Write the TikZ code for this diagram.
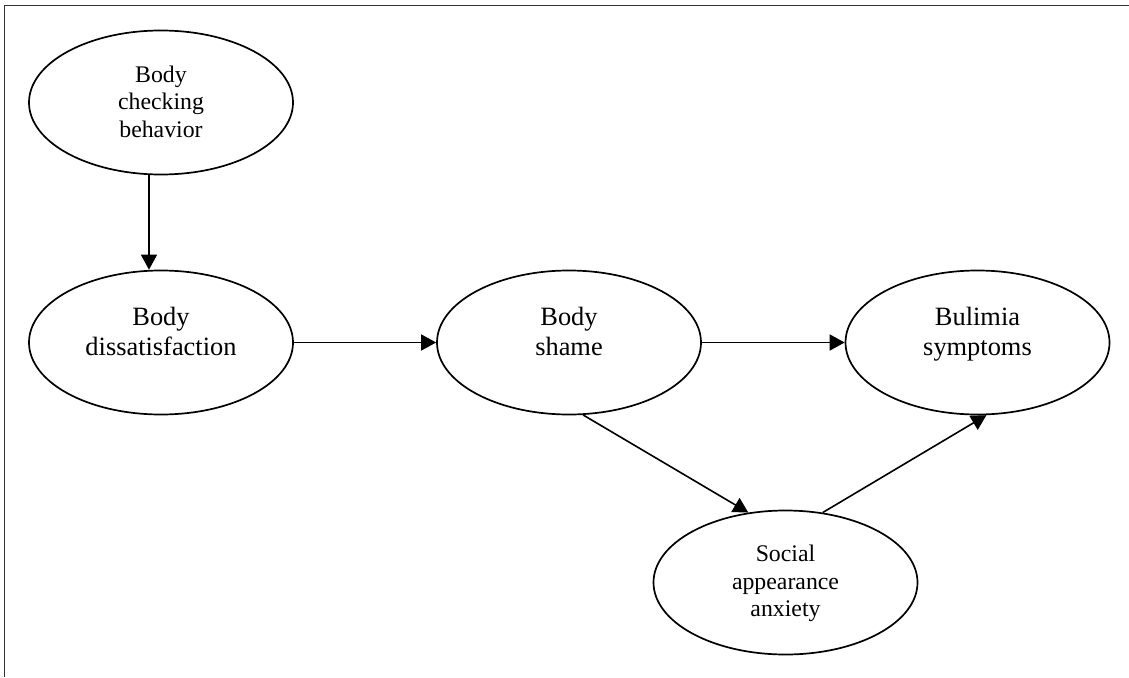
\documentclass[tikz,border=0pt]{standalone}
\usepackage{fontspec}
\setmainfont{Liberation Serif}
\usetikzlibrary{shapes.geometric,arrows.meta}
\begin{document}
\begin{tikzpicture}[x=1pt,y=-1pt,
  construct/.style={draw,line width=1.7pt,ellipse,minimum width=264pt,minimum height=144pt,inner sep=0pt},
  bigtext/.style={align=center,anchor=base,font=\fontsize{26.4}{30}\selectfont},
  smalltext/.style={align=center,anchor=base,font=\fontsize{23.8}{27.5}\selectfont},
  path/.style={line width=1.6pt,-{Triangle[length=15pt,width=16pt]}}]
  \useasboundingbox (0,0) rectangle (1129,677);
  % frame (top and left edges only)
  \draw[line width=1.6pt,black!80] (1129,5.5) -- (4.5,5.5) -- (4.5,677);
  % constructs
  \node[construct] (bcb) at (161,102.5) {};
  \node[construct] (bd)  at (161,342.5) {};
  \node[construct] (bs)  at (569,342.5) {};
  \node[construct] (bul) at (977.5,342.5) {};
  \node[construct] (saa) at (785.5,582.5) {};
  % labels (anchored at the baseline of the last line)
  \node[smalltext] (bcbt) at ([yshift=-34.5pt]bcb.center) {Body\\checking\\behavior};
  \node[bigtext]   (bdt)  at ([yshift=-12.5pt]bd.center) {Body\\dissatisfaction};
  \node[bigtext]   (bst)  at ([yshift=-12.5pt]bs.center) {Body\\shame};
  \node[bigtext]   (bult) at ([yshift=-12.5pt]bul.center) {Bulimia\\symptoms};
  \node[smalltext] (saat) at ([yshift=-34pt]saa.center) {Social\\appearance\\anxiety};
  % paths
  \draw[path] ([xshift=-12pt]bcb.south) -- ([xshift=-12pt]bd.north);
  \draw[path] (bd.east) -- (bs.west);
  \draw[path] (bs.east) -- (bul.west);
  \draw[path] (bs.-79) -- (saa.118);
  \draw[path] (saa.62) -- (bul.-83);
\end{tikzpicture}
\end{document}
